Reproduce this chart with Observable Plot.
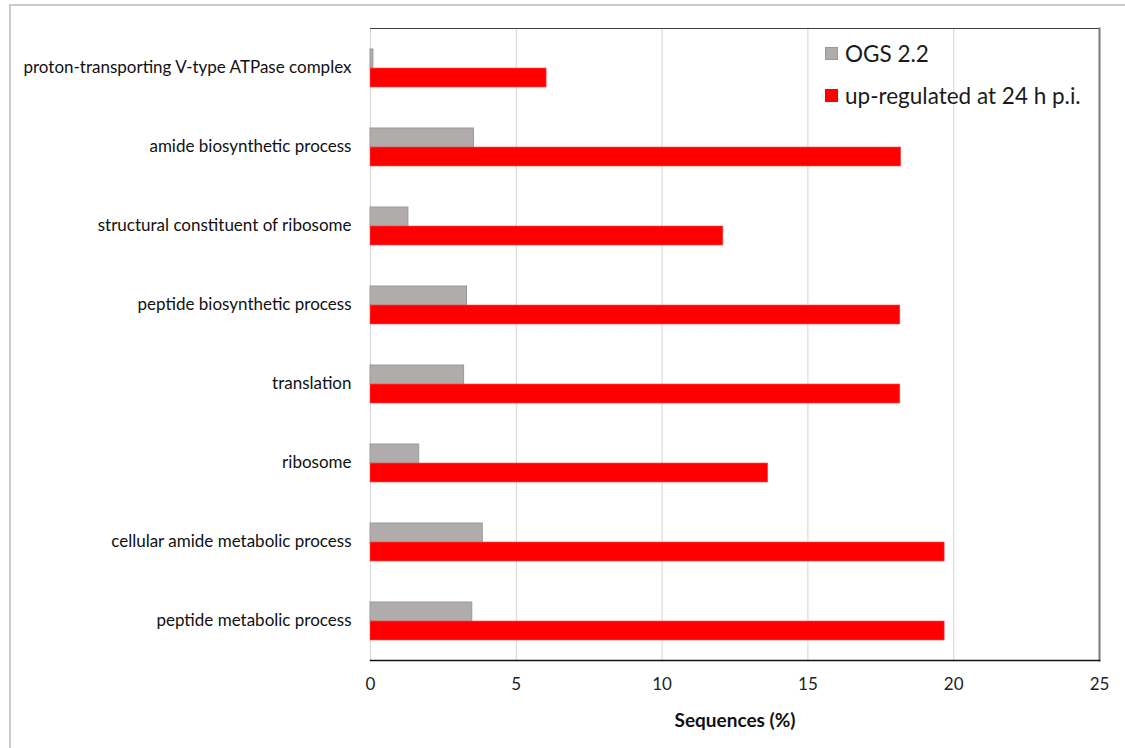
<!DOCTYPE html>
<html>
<head>
<meta charset="utf-8">
<script src="https://cdn.jsdelivr.net/npm/d3@7"></script>
<script src="https://cdn.jsdelivr.net/npm/@observablehq/plot@0.6"></script>
<style>
  body { margin: 0; background: #fff; }
  #wrap { position: relative; width: 1125px; height: 748px; overflow: hidden; font-family: Lato, "Open Sans", sans-serif; }
  #outer { position: absolute; left: 9px; top: 4px; width: 1300px; height: 900px; border: 2px solid #cacaca; box-sizing: border-box; pointer-events: none; }
  #chart { position: absolute; left: 0; top: 0; }
  .leg { position: absolute; display: flex; align-items: center; font-size: 22.5px; color: #1a1a1a; white-space: nowrap; height: 24px; }
  .sw { width: 13px; height: 13px; margin-right: 7px; box-sizing: border-box; }
</style>
</head>
<body>
<div id="wrap">
  <div id="outer"></div>
  <div id="chart"></div>
  <div id="legend"></div>
</div>
<script>
const categories = [
  "proton-transporting V-type ATPase complex",
  "amide biosynthetic process",
  "structural constituent of ribosome",
  "peptide biosynthetic process",
  "translation",
  "ribosome",
  "cellular amide metabolic process",
  "peptide metabolic process"
];
const ogsValues = [0.1, 3.55, 1.3, 3.31, 3.21, 1.67, 3.85, 3.49];
const upValues  = [6.04, 18.2, 12.1, 18.17, 18.17, 13.64, 19.69, 19.69];
const seriesNames = ["OGS 2.2", "up-regulated at 24 h p.i."];
const seriesColors = ["#b0acab", "#ff0000"];
const xTicks = [0, 5, 10, 15, 20, 25];
const xLabel = "Sequences (%)";

const data = categories.map((c, i) => ({cat: c, ogs: ogsValues[i], up: upValues[i]}));

const chart = Plot.plot({
  width: 1125,
  height: 748,
  marginLeft: 370,
  marginRight: 26,
  marginTop: 28,
  marginBottom: 88,
  style: {fontFamily: "Lato, 'Open Sans', sans-serif", fontSize: "16px", color: "#1a1a1a", background: "transparent", overflow: "visible"},
  x: {domain: [0, 25], ticks: xTicks, label: null},
  y: {domain: categories, padding: 0, label: null},
  marks: [
    Plot.ruleX(xTicks, {stroke: "#d4d4d4", strokeWidth: 1}),
    Plot.barX(data, {x: "ogs", y: "cat", fill: seriesColors[0], stroke: "#9c9898", strokeWidth: 1, insetTop: 21, insetBottom: 39}),
    Plot.barX(data, {x: "up", y: "cat", fill: seriesColors[1], stroke: "#ff5050", strokeWidth: 0.6, insetTop: 40, insetBottom: 20}),
    Plot.frame({anchor: "top", stroke: "#404040", strokeWidth: 1}),
    Plot.frame({anchor: "right", stroke: "#7a7a7a", strokeWidth: 2}),
    Plot.frame({anchor: "bottom", stroke: "#111", strokeWidth: 1.5}),
    Plot.axisX({ticks: xTicks, tickSize: 0, tickPadding: 17, fontSize: 17, label: null, fill: "#222"}),
    Plot.axisY({tickSize: 0, tickPadding: 19, fontSize: 17, label: null, fill: "#111"}),
    Plot.text([xLabel], {frameAnchor: "bottom", dy: 66, fontWeight: "bold", fontSize: 19, fill: "#111"})
  ]
});
document.getElementById("chart").appendChild(chart);

const legend = document.getElementById("legend");
const legTops = [41, 83];
seriesNames.forEach((name, i) => {
  const row = document.createElement("div");
  row.className = "leg";
  row.style.left = "825px";
  row.style.top = legTops[i] + "px";
  const sw = document.createElement("div");
  sw.className = "sw";
  sw.style.background = seriesColors[i];
  if (i === 0) sw.style.border = "1px solid #9c9898";
  row.appendChild(sw);
  const t = document.createElement("span");
  t.textContent = name;
  row.appendChild(t);
  legend.appendChild(row);
});
</script>
</body>
</html>
